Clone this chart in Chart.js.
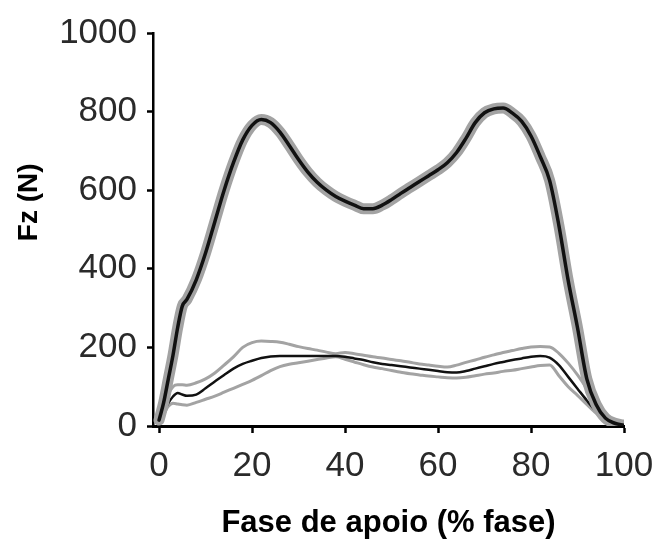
<!DOCTYPE html>
<html>
<head>
<meta charset="utf-8">
<script src="https://cdn.jsdelivr.net/npm/chart.js@4/dist/chart.umd.min.js"></script>
<style>
  html, body { margin: 0; padding: 0; background: #fff; }
  #wrap { width: 659px; height: 542px; position: relative; }
</style>
</head>
<body>
<div id="wrap"><canvas id="c" width="659" height="542"></canvas></div>
<script>
// Stance phase (% of phase)
const stancePct = [0,1,2,3,4,5,6,8,10,12,14,16,18,20,22,24,26,28,30,32,34,36,38,40,42,44,46,48,50,52,54,56,58,60,62,64,66,68,70,72,74,76,78,80,82,84,86,88,90,92,94,96,98,100];

// Upper curve: mean Fz (N) (drawn over a thick gray band)
const upperMean = [15,60,120,180,250,305,322,372,440,520,600,670,728,765,780,772,748,714,678,646,620,600,584,572,562,553,553,562,576,592,607,622,637,652,670,696,732,772,797,807,809,796,775,738,685,625,510,370,250,120,55,20,7,2];

// Lower curve: mean and ± SD lines
const lowerMean = [15,35,58,75,84,80,77,80,96,113,130,146,158,166,173,177,178,178,178,178,178,178,178,176,172,168,162,158,155,152,149,146,143,140,137,136,140,146,152,158,163,168,172,176,178,174,155,125,95,65,38,20,8,2];
const lowerUpperSD = [18,45,80,100,105,105,104,110,120,135,155,176,200,212,216,215,213,208,202,197,193,188,184,187,184,180,176,173,169,166,162,158,155,152,150,155,162,168,175,181,187,192,197,201,202,201,185,160,130,95,55,25,8,2];
const lowerLowerSD = [12,30,50,58,56,54,53,60,68,76,86,96,106,116,128,141,151,157,161,165,169,173,176,170,163,156,150,146,141,137,133,130,127,125,123,122,124,128,132,135,139,142,146,150,154,155,128,100,78,55,33,18,7,2];

const xTicks = [0,20,40,60,80,100];
const yTicks = [0,200,400,600,800,1000];

const pts = arr => arr.map((v, i) => ({x: stancePct[i], y: v}));

const GRAY = '#a3a3a3';
const BLACK = '#111111';
const common = { pointRadius: 0, cubicInterpolationMode: 'monotone', borderJoinStyle: 'round', borderCapStyle: 'round' };

new Chart(document.getElementById('c'), {
  type: 'line',
  data: {
    datasets: [
      Object.assign({ data: pts(upperMean), borderColor: BLACK, borderWidth: 3.5, order: 0 }, common),
      Object.assign({ data: pts(upperMean), borderColor: GRAY, borderWidth: 11, order: 1 }, common),
      Object.assign({ data: pts(lowerMean), borderColor: BLACK, borderWidth: 2.5, order: 2 }, common),
      Object.assign({ data: pts(lowerUpperSD), borderColor: GRAY, borderWidth: 3, order: 3 }, common),
      Object.assign({ data: pts(lowerLowerSD), borderColor: GRAY, borderWidth: 3, order: 4 }, common)
    ]
  },
  options: {
    responsive: false,
    animation: false,
    layout: { padding: { left: 0, right: 35, top: 33, bottom: 0 } },
    plugins: { legend: { display: false }, tooltip: { enabled: false } },
    scales: {
      x: {
        type: 'linear',
        min: -1.3,
        max: 100,
        afterBuildTicks: s => { s.ticks = xTicks.map(v => ({value: v})); },
        afterFit: s => { s.height = 116; s.paddingLeft = 0; s.paddingRight = 0; },
        border: { display: true, color: '#000', width: 3 },
        grid: { display: true, drawOnChartArea: false, drawTicks: true, tickLength: 7, tickColor: '#000', tickWidth: 2.5 },
        ticks: { color: '#2a2a2a', font: { family: 'Liberation Sans', size: 35 }, padding: 12, maxRotation: 0, autoSkip: false, callback: v => String(v) },
        title: { display: true, text: 'Fase de apoio (% fase)', color: '#000', font: { family: 'Liberation Sans', size: 31, weight: 'bold' }, padding: { top: 0, bottom: 0 } }
      },
      y: {
        type: 'linear',
        min: 0,
        max: 1000,
        afterBuildTicks: s => { s.ticks = yTicks.map(v => ({value: v})); },
        afterFit: s => { s.width = 153; s.paddingTop = 0; s.paddingBottom = 0; },
        border: { display: true, color: '#000', width: 2.5 },
        grid: { display: true, drawOnChartArea: false, drawTicks: true, tickLength: 6, tickColor: '#000', tickWidth: 2.5 },
        ticks: { color: '#2a2a2a', font: { family: 'Liberation Sans', size: 35 }, padding: 10, callback: v => String(v) },
        title: { display: true, text: '       Fz (N)', color: '#000', font: { family: 'Liberation Sans', size: 28, weight: 'bold' }, padding: { top: 12, bottom: 0 } }
      }
    }
  }
});
</script>
</body>
</html>
